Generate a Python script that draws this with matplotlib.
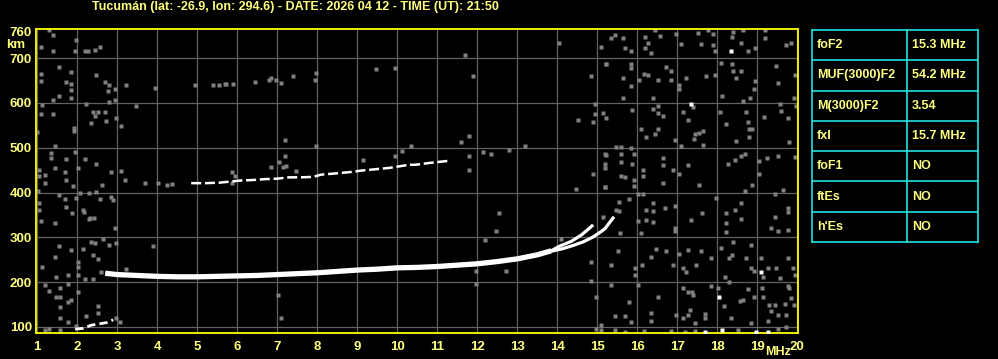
import numpy as np
import matplotlib.pyplot as plt

# ionogram header / parameters
title = 'Tucumán (lat: -26.9, lon: 294.6) - DATE: 2026 04 12 - TIME (UT): 21:50'
param_names = ['foF2', 'MUF(3000)F2', 'M(3000)F2', 'fxI', 'foF1', 'ftEs', "h'Es"]
param_values = ['15.3 MHz', '54.2 MHz', '3.54', '15.7 MHz', 'NO', 'NO', 'NO']

freq_ticks = list(range(1, 21))
height_ticks = [100, 200, 300, 400, 500, 600, 700, 760]

# F-layer trace (MHz, km)
f_trace = [2.7, 3.0, 3.5, 4.0, 4.5, 5.0, 5.5, 6.0, 6.5, 7.0, 7.5, 8.0, 8.5, 9.0,
           9.5, 10.0, 10.5, 11.0, 11.5, 12.0, 12.5, 13.0, 13.5, 13.85]
h_trace = [220, 217, 215, 213, 212, 212, 213, 214, 215, 217, 219, 221, 224, 227,
           229, 232, 233, 235, 238, 241, 246, 252, 261, 270]
# the two branches near the critical frequencies
f_branch_a = [13.85, 14.05, 14.35, 14.6, 14.8, 14.9]
h_branch_a = [270, 280, 291, 305, 320, 328]
f_branch_b = [13.85, 14.15, 14.4, 14.65, 14.9, 15.1, 15.2, 15.3, 15.42]
h_branch_b = [269, 275, 282, 290, 301, 313, 320, 332, 346]
# second hop echo
f_hop2 = [4.85, 5.2, 5.55, 6.1, 6.4, 6.7, 7.0, 7.3, 7.6, 7.9, 8.1, 8.5, 8.85, 9.1,
          9.45, 9.8, 10.3, 10.45, 10.8, 11.3]
h_hop2 = [421, 421, 422, 427, 428, 430, 431, 434, 434, 435, 440, 443, 446, 449,
          452, 455, 462, 462, 466, 471]
# low E echo
f_e = [1.95, 2.15, 2.35, 2.55, 2.75, 2.9]
h_e = [95, 97, 104, 107, 110, 116]

# scattered noise dots (MHz, km)
noise_low = [
    (1.29, 762), (1.4, 751), (1.09, 725), (1.4, 717), (1.94, 717), (2.19, 717), (2.27, 717),
    (2.44, 719), (2.58, 725), (1.98, 740), (1.54, 680), (1.84, 669), (1.09, 665), (1.09, 650),
    (1.72, 647), (1.84, 643), (2.48, 663), (2.69, 647), (2.79, 641), (2.94, 630), (2.76, 626),
    (1.84, 628), (1.54, 615), (1.4, 607), (1.84, 611), (2.79, 602), (2.94, 607), (3.23, 639),
    (3.94, 634), (4.94, 639), (5.4, 641), (5.54, 641), (5.69, 643), (1.13, 595), (1.09, 575),
    (1.4, 575), (2.23, 598), (2.4, 580), (2.53, 580), (2.69, 580), (2.45, 570), (2.98, 566),
    (3.48, 594), (2.34, 555), (2.73, 560), (3.09, 549), (1.91, 544), (1.91, 537), (1.0, 535),
    (1.44, 505), (1.34, 488), (1.34, 477), (1.94, 490), (1.71, 475), (2.19, 475), (2.48, 463),
    (2.03, 455), (1.44, 455), (1.69, 447), (1.19, 440), (1.04, 451), (1.04, 438), (2.84, 446),
    (3.09, 449), (3.19, 427), (3.69, 421), (4.03, 421), (4.24, 417), (4.38, 420), (1.73, 428),
    (1.89, 414), (2.61, 417), (1.19, 421), (1.03, 404), (1.54, 395), (1.69, 386), (1.98, 387),
    (2.08, 399), (2.29, 399), (2.48, 402), (2.58, 386), (2.84, 389), (2.9, 384), (1.04, 376),
    (1.04, 361), (1.73, 367), (1.87, 354), (2.14, 361), (2.18, 356), (2.33, 344), (2.43, 344),
    (2.29, 341), (1.09, 337), (1.44, 331), (2.94, 322), (2.65, 296), (2.34, 290), (2.44, 288),
    (2.79, 283), (2.98, 287), (1.54, 281), (1.84, 272), (2.14, 274), (1.44, 256), (2.4, 261),
    (2.53, 252), (2.03, 246), (2.03, 235), (3.23, 229), (1.13, 233), (1.78, 216), (1.46, 211),
    (2.03, 217), (2.19, 207), (2.4, 207), (2.59, 223), (3.9, 281), (1.19, 193), (1.29, 180),
    (1.58, 187), (1.78, 197), (1.46, 167), (1.58, 167), (1.56, 145), (1.58, 119), (2.01, 178),
    (1.78, 155), (1.84, 160), (2.23, 125), (2.53, 146), (2.53, 132), (2.98, 119), (3.07, 111),
    (1.78, 111), (1.29, 96), (1.19, 93), (1.56, 93), (1.98, 102),
]
noise_mid = [
    (5.71, 643), (5.9, 643), (6.44, 647), (6.79, 652), (6.84, 656), (6.98, 652), (7.09, 645),
    (7.4, 660), (7.94, 652), (7.98, 666), (9.48, 675), (9.94, 678), (7.19, 518), (7.98, 503),
    (7.19, 482), (5.88, 446), (5.94, 437), (5.88, 421), (7.04, 468), (6.84, 456), (7.15, 458),
    (7.23, 460), (7.48, 449), (9.15, 473), (9.94, 482), (10.13, 492), (10.34, 503), (7.03, 171),
    (7.09, 119), (11.69, 708), (11.9, 661), (14.04, 734), (15.09, 725), (14.84, 661),
    (15.23, 687), (14.94, 598), (15.15, 577), (14.94, 575), (14.53, 563), (14.9, 558),
    (11.79, 527), (11.59, 513), (11.79, 482), (11.79, 451), (12.15, 490), (12.34, 486),
    (12.79, 496), (13.19, 503), (15.19, 486), (15.19, 463), (15.19, 455), (14.9, 442),
    (15.19, 412), (14.48, 408), (12.54, 354), (12.48, 314), (12.19, 294), (15.15, 345),
    (14.09, 296), (11.98, 225), (12.73, 225), (11.98, 197), (14.84, 246), (14.84, 202),
    (14.98, 167), (15.09, 104), (14.98, 96), (15.1, 93),
]
noise_high = [
    (15.44, 751), (15.34, 744), (15.65, 745), (15.69, 722), (15.84, 717), (16.44, 762),
    (16.19, 747), (16.26, 734), (16.19, 722), (16.34, 712), (16.57, 749), (16.98, 754),
    (17.09, 731), (17.53, 757), (17.59, 731), (17.78, 762), (17.9, 754), (17.9, 729),
    (17.94, 717), (18.4, 759), (18.36, 747), (18.59, 734), (18.76, 717), (18.65, 762),
    (18.94, 723), (19.19, 745), (19.19, 762), (19.73, 729), (19.84, 734),
    (15.23, 687), (15.84, 687), (15.84, 678), (15.84, 637), (15.65, 656), (16.04, 652),
    (16.18, 665), (16.28, 663), (16.73, 680), (16.84, 672), (16.84, 652), (16.53, 652),
    (16.4, 610), (17.04, 640), (17.04, 630), (17.23, 656), (17.73, 661), (17.94, 663),
    (18.09, 690), (18.36, 687), (18.4, 671), (18.48, 656), (18.59, 671), (18.94, 649),
    (18.93, 632), (18.65, 605), (18.81, 611), (18.11, 615), (19.48, 682), (19.53, 645),
    (19.94, 663), (19.93, 611), (15.65, 610),
    (15.23, 566), (15.88, 584), (16.09, 541), (16.23, 525), (16.44, 530), (16.53, 541),
    (16.4, 587), (16.53, 594), (16.65, 570), (16.53, 577), (16.94, 518), (17.09, 505),
    (17.15, 580), (17.28, 562), (17.4, 591), (17.44, 530), (17.43, 519), (17.54, 534),
    (17.65, 538), (17.65, 507), (18.07, 580), (18.23, 552), (18.73, 580), (18.78, 557),
    (18.79, 541), (18.88, 541), (18.79, 525), (18.48, 516), (19.18, 568), (19.57, 598),
    (19.59, 582), (19.78, 566), (19.79, 512), (19.98, 594), (15.48, 502), (15.59, 502),
    (15.84, 500),
    (15.23, 484), (15.59, 486), (15.59, 468), (15.93, 486), (15.88, 463), (15.59, 438),
    (15.69, 435), (15.93, 428), (15.93, 414), (16.15, 451), (16.15, 438), (16.65, 477),
    (16.65, 461), (16.65, 421), (16.9, 451), (17.04, 441), (17.28, 461), (17.54, 417),
    (18.28, 463), (18.44, 473), (18.69, 486), (18.59, 481), (18.86, 417), (19.04, 470),
    (19.04, 441), (19.24, 477), (19.53, 482), (19.94, 480), (18.69, 404), (15.19, 412),
    (15.54, 378), (15.54, 359), (15.48, 361), (15.79, 386), (16.01, 396), (16.15, 396),
    (16.4, 376), (16.4, 358), (16.23, 361), (16.23, 339), (16.4, 335), (16.69, 365),
    (16.94, 369), (16.94, 322), (16.94, 314), (17.34, 339), (17.63, 354), (17.98, 388),
    (18.23, 354), (18.23, 332), (18.23, 313), (18.44, 361), (18.59, 376), (18.59, 341),
    (19.44, 396), (19.64, 405), (19.44, 346), (19.34, 322), (19.53, 314), (19.78, 365),
    (19.78, 356), (19.78, 317), (15.57, 310), (16.03, 337), (16.09, 310),
    (15.53, 269), (15.34, 238), (15.94, 232), (15.94, 217), (16.11, 238), (16.34, 257),
    (16.48, 275), (16.73, 269), (16.9, 239), (17.04, 264), (17.15, 232), (17.23, 223),
    (17.28, 271), (17.48, 238), (17.59, 269), (17.84, 254), (18.09, 277), (18.19, 212),
    (18.29, 201), (18.29, 253), (18.4, 290), (18.38, 260), (18.84, 283), (18.73, 254),
    (18.93, 225), (19.09, 254), (19.28, 231), (19.48, 232), (19.57, 210), (19.15, 212),
    (19.9, 232), (19.78, 254), (19.94, 215), (18.84, 231),
    (15.34, 194), (16.03, 194), (15.79, 155), (15.44, 125), (15.69, 125), (15.84, 111),
    (16.34, 132), (16.34, 113), (16.53, 167), (16.96, 126), (17.15, 186), (17.28, 178),
    (17.4, 171), (17.38, 178), (17.31, 139), (17.28, 127), (17.15, 120), (17.44, 108),
    (17.69, 130), (17.69, 119), (17.84, 192), (18.03, 187), (18.18, 147), (18.34, 119),
    (18.57, 157), (18.65, 161), (18.76, 184), (18.84, 110), (18.93, 167), (19.13, 187),
    (19.15, 167), (19.29, 149), (19.34, 135), (19.44, 150), (19.53, 126), (19.69, 152),
    (19.76, 192), (19.84, 164), (19.79, 187), (19.73, 127), (19.93, 149), (19.28, 113),
    (15.44, 93), (15.69, 89), (16.18, 91), (16.84, 91), (17.19, 89), (17.44, 91),
    (18.53, 93), (19.53, 96), (19.73, 100),
]
noise_white = [(18.34, 717), (17.34, 598), (19.09, 223), (18.04, 167), (17.69, 89),
               (18.13, 93), (18.98, 89), (19.28, 89)]

txt_col = '#ffff80'
frame_col = '#ffff00'
grid_col = '#626262'
noise_col = '#808080'
cyan = '#22e0e0'

plt.rcParams['font.family'] = ['Liberation Sans', 'DejaVu Sans']
plt.rcParams['font.weight'] = 'bold'

fig = plt.figure(figsize=(9.98, 3.59), dpi=100, facecolor='black')
W, H = 998, 359
ax = fig.add_axes([36 / W, (H - 333) / H, 762 / W, 304 / H], facecolor='black')
ax.set_xlim(0.97, 20.02)
ax.set_ylim(86.6, 765)

for f in freq_ticks:
    ax.axvline(f, color=grid_col, lw=0.9, zorder=1)
for h in height_ticks[:-1]:
    ax.axhline(h, color=grid_col, lw=0.9, zorder=1)

for pts in (noise_low, noise_mid, noise_high):
    nf, nh = np.array(pts).T
    ax.plot(nf, nh, ls='', marker='s', ms=2.2, mfc=noise_col, mec='none', zorder=2)
wf, wh = np.array(noise_white).T
ax.plot(wf, wh, ls='', marker='s', ms=2.2, mfc='white', mec='none', zorder=3)

ax.plot(f_trace, h_trace, color='white', lw=3.8, solid_capstyle='butt', zorder=4)
ax.plot(f_branch_a, h_branch_a, color='white', lw=2.3, solid_capstyle='butt', zorder=4)
ax.plot(f_branch_b, h_branch_b, color='white', lw=2.3, solid_capstyle='butt', zorder=4)
ax.plot(f_hop2, h_hop2, color='white', lw=1.8, dashes=(4, 1.5), zorder=4)
ax.plot(f_e, h_e, color='white', lw=2.0, dashes=(3, 1.5), zorder=4)

ax.set_xticks(freq_ticks)
ax.set_yticks(height_ticks)
ax.tick_params(length=0, colors=txt_col, labelsize=9.5)
ax.tick_params(axis='x', pad=6)
ax.tick_params(axis='y', pad=3)
for lab in ax.get_xticklabels() + ax.get_yticklabels():
    lab.set_fontweight('bold')
for s in ax.spines.values():
    s.set_color(frame_col)
    s.set_linewidth(1.3)

fig.text(92 / W, 1 - 7 / H, title, color=txt_col, fontsize=9, fontweight='bold',
         ha='left', va='center')
fig.text(6 / W, 1 - 45 / H, 'km', color=txt_col, fontsize=9.5,
         fontweight='bold', ha='left', va='center')
fig.text(778 / W, 1 - 352 / H, 'MHz', color=txt_col, fontsize=9,
         fontweight='bold', ha='center', va='center')

# parameter table on the right
tab = fig.add_axes([812 / W, (H - 242) / H, 166 / W, 212 / H], facecolor='black')
tab.set_xlim(0, 166)
tab.set_ylim(212, 0)
tab.axis('off')
n = len(param_names)
row_h = 212 / n
for i in range(n + 1):
    tab.plot([0, 166], [i * row_h] * 2, color=cyan, lw=1.2, clip_on=False)
for xv in (0, 95, 166):
    tab.plot([xv, xv], [0, 212], color=cyan, lw=1.2, clip_on=False)
for i, (name, val) in enumerate(zip(param_names, param_values)):
    yc = (i + 0.5) * row_h
    tab.text(5, yc, name, color=txt_col, fontsize=9, fontweight='bold', va='center')
    tab.text(100, yc, val, color=txt_col, fontsize=9, fontweight='bold', va='center')

fig.savefig('out.png', dpi=100, facecolor='black')
